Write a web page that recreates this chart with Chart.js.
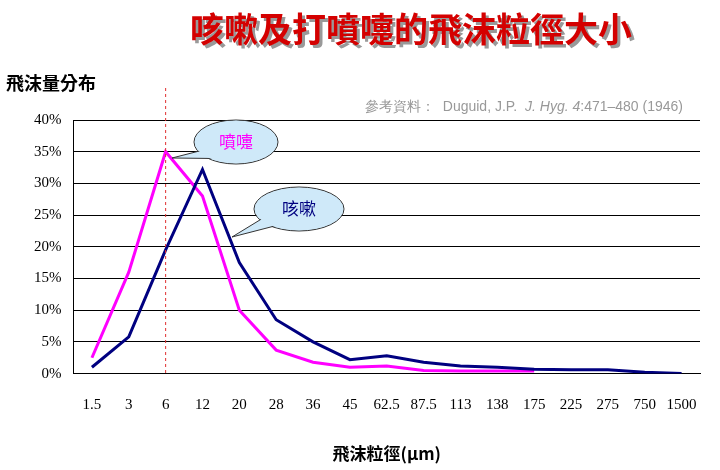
<!DOCTYPE html>
<html><head><meta charset="utf-8">
<script src="https://cdn.jsdelivr.net/npm/chart.js@4"></script>
<style>html,body{margin:0;padding:0;background:#fff}</style>
</head><body><canvas id="c" width="720" height="470"></canvas>
<script>
const categories=['1.5','3','6','12','20','28','36','45','62.5','87.5','113','138','175','225','275','750','1500'];
const cough=[1,5.8,19.5,32.2,17.5,8.5,5,2.2,2.8,1.8,1.2,1,0.7,0.6,0.6,0.2,0];
const sneeze=[2.5,16,35,28,10,3.7,1.8,1,1.2,0.5,0.4,0.4,0.4,null,null,null,null];
const yTicks=[0,5,10,15,20,25,30,35,40];
const CJK='"Noto Sans CJK TC"';
const deco={id:'deco',afterDraw(ch){
 const c=ch.ctx,x=ch.scales.x,y=ch.scales.y;
 c.save();
 c.font='bold 34px '+CJK;c.textAlign='center';c.textBaseline='middle';
 c.fillStyle='#999';c.fillText('咳嗽及打噴嚏的飛沫粒徑大小',414,32);
 c.fillStyle='#d40000';c.fillText('咳嗽及打噴嚏的飛沫粒徑大小',411,29);
 c.font='bold 18px '+CJK;c.fillStyle='#000';c.textAlign='left';
 c.fillText('飛沫量分布',6,83);
 c.font='14px "Liberation Sans"';c.fillStyle='#999';
 const a='參考資料：  Duguid, J.P.  ';
 c.fillText(a,365,107);
 let w=c.measureText(a).width;
 c.font='italic 14px "Liberation Sans"';c.fillText('J. Hyg. 4',365+w,107);
 let w2=c.measureText('J. Hyg. 4').width;
 c.font='14px "Liberation Sans"';c.fillText(':471–480 (1946)',365+w+w2,107);
 const xv=x.getPixelForValue(2);
 c.strokeStyle='#e03030';c.setLineDash([3,3]);c.lineWidth=1;
 c.beginPath();c.moveTo(xv,88);c.lineTo(xv,y.bottom);c.stroke();c.setLineDash([]);
 function bubble(cx,cy,rx,ry,tx,ty,txt,col){
  c.fillStyle='#cfe9f9';c.strokeStyle='#333';c.lineWidth=1;
  c.beginPath();c.ellipse(cx,cy,rx,ry,0,0,Math.PI*2);c.fill();c.stroke();
  c.beginPath();c.moveTo(cx-rx*0.75,cy+ry*0.35);c.lineTo(tx,ty);c.lineTo(cx-rx*0.5,cy+ry*0.75);
  c.closePath();c.fill();c.stroke();
  c.beginPath();c.ellipse(cx,cy,rx-0.8,ry-0.8,0,0,Math.PI*2);c.fill();
  c.font='17px '+CJK;c.fillStyle=col;c.textAlign='center';c.fillText(txt,cx,cy);
 }
 bubble(236,142,42,22,172,158,'噴嚏','#ff00ff');
 bubble(299,209,45,22,232,237,'咳嗽','#000080');
 c.restore();
}};
new Chart(document.getElementById('c'),{type:'line',
 data:{labels:categories,datasets:[
  {data:cough,borderColor:'#000080',borderWidth:3,pointRadius:0,tension:0},
  {data:sneeze,borderColor:'#ff00ff',borderWidth:3,pointRadius:0,tension:0}]},
 options:{responsive:false,animation:false,devicePixelRatio:1,
  layout:{padding:{top:120,left:22,right:20,bottom:0}},
  plugins:{legend:{display:false},tooltip:{enabled:false}},
  scales:{
   x:{offset:true,grid:{display:false,drawTicks:false},border:{color:'#000'},
    ticks:{padding:22,color:'#000',font:{family:'Liberation Serif',size:15},maxRotation:0,autoSkip:false},
    title:{display:true,text:'飛沫粒徑(μm)',color:'#000',font:{family:CJK,size:17,weight:'bold'},padding:{top:8,bottom:6}}},
   y:{min:0,max:40,afterBuildTicks(s){s.ticks=yTicks.map(v=>({value:v}));},
    grid:{color:'#000',drawTicks:false,lineWidth:1},border:{color:'#000'},
    ticks:{padding:12,color:'#000',font:{family:'Liberation Serif',size:15},callback:v=>v+'%'}}
  }},
 plugins:[deco]});
</script></body></html>
